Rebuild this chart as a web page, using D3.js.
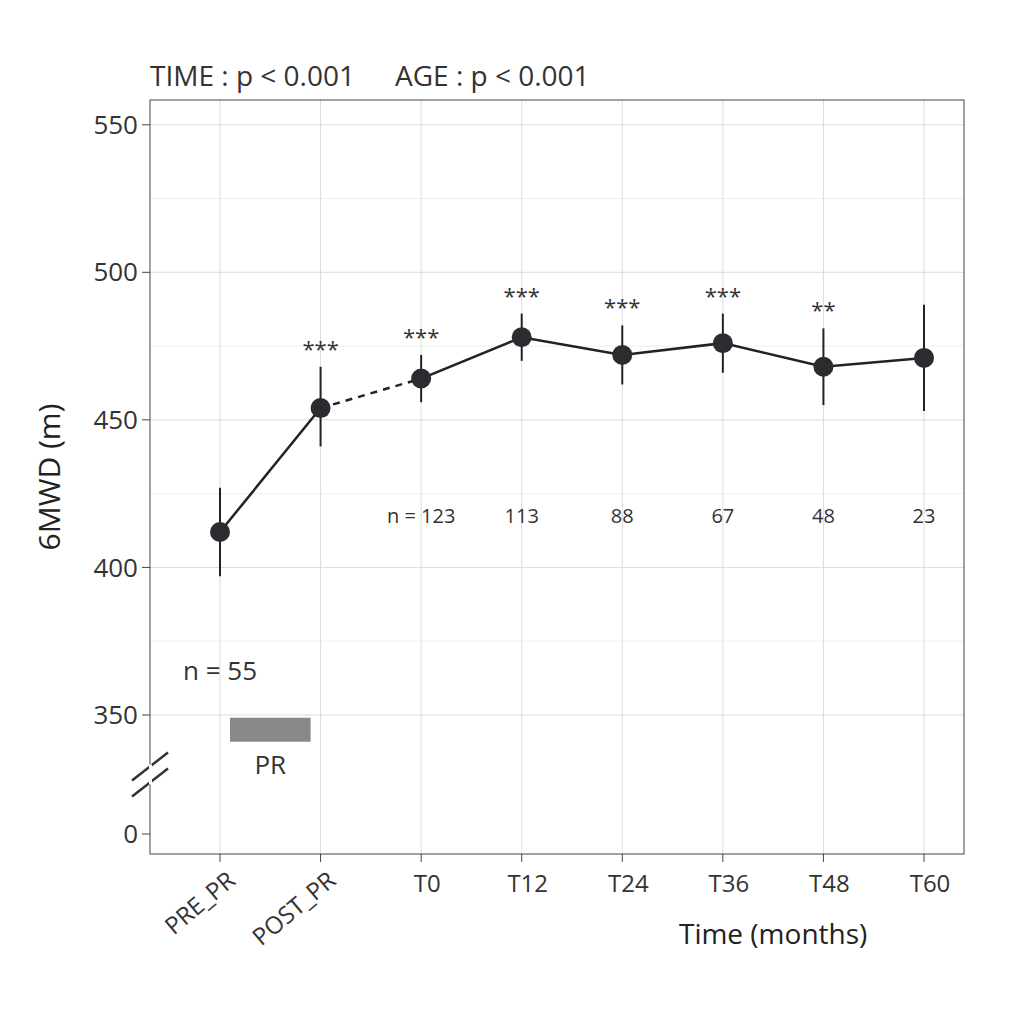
<!DOCTYPE html>
<html><head><meta charset="utf-8">
<script src="https://cdn.jsdelivr.net/npm/d3@7"></script>
<style>body{margin:0;background:#fff;font-family:"Open Sans",Arial,sans-serif}</style>
</head><body><svg id="c" width="1024" height="1024"></svg>
<script>
const categories=["PRE_PR","POST_PR","T0","T12","T24","T36","T48","T60"];
const means=[412,454,464,478,472,476,468,471];
const lows=[397,441,456,470,462,466,455,453];
const highs=[427,468,472,486,482,486,481,489];
const stars=["","***","***","***","***","***","**",""];
const nLabels=["n = 55","","n = 123","113","88","67","48","23"];
const yTicks=[0,350,400,450,500,550];

const svg=d3.select("#c");
const m={l:150,r:60,t:110,b:190};
const W=1024,H=1024;
const x=d3.scalePoint().domain(categories).range([m.l+70,W-m.r-40]).padding(0);
const y=d3.scaleLinear().domain([0,330,555]).range([H-m.b,H-m.b-60,m.t]);
const px0=m.l,px1=W-m.r,py0=m.t-10,py1=H-m.b+20;

const g=svg.append("g");
yTicks.concat([375,425,475,525]).forEach(v=>{if(v>0)g.append("line").attr("x1",px0).attr("x2",px1).attr("y1",y(v)).attr("y2",y(v)).attr("stroke",v%50?"#eeeeee":"#dcdcdc");});
categories.forEach(c=>g.append("line").attr("x1",x(c)).attr("x2",x(c)).attr("y1",py0).attr("y2",py1).attr("stroke","#dcdcdc"));
g.append("rect").attr("x",px0).attr("y",py0).attr("width",px1-px0).attr("height",py1-py0).attr("fill","none").attr("stroke","#444");
yTicks.forEach(v=>{g.append("line").attr("x1",px0-8).attr("x2",px0).attr("y1",y(v)).attr("y2",y(v)).attr("stroke","#444");
 g.append("text").attr("x",px0-12).attr("y",y(v)).attr("dy","0.35em").attr("text-anchor","end").attr("font-size",26).attr("fill","#333").text(v);});
const by=(y(0)+y(350))/2;
[-8,8].forEach(o=>g.append("line").attr("x1",px0-18).attr("x2",px0+18).attr("y1",by+o+14).attr("y2",by+o-14).attr("stroke","#333").attr("stroke-width",2.5));
g.append("rect").attr("x",px0-1).attr("y",by-10).attr("width",3).attr("height",20).attr("fill","#fff");
categories.forEach(c=>{g.append("line").attr("x1",x(c)).attr("x2",x(c)).attr("y1",py1).attr("y2",py1+8).attr("stroke","#444");
 g.append("text").attr("transform",`translate(${x(c)+6},${py1+16}) rotate(${c.includes("PR")?-40:0})`).attr("text-anchor",c.includes("PR")?"end":"middle").attr("dy",c.includes("PR")?"0.7em":"0.9em").attr("font-size",24).attr("fill","#333").text(c);});
g.append("text").attr("x",(x("T24")+x("T60"))/2).attr("y",py1+90).attr("text-anchor","middle").attr("font-size",28).attr("fill","#222").text("Time (months)");
g.append("text").attr("transform",`translate(60,${(py0+py1)/2}) rotate(-90)`).attr("text-anchor","middle").attr("font-size",30).attr("fill","#222").text("6MWD (m)");
g.append("text").attr("x",px0).attr("y",py0-14).attr("font-size",28).attr("fill","#333").text("TIME : p < 0.001");
g.append("text").attr("x",px0+245).attr("y",py0-14).attr("font-size",28).attr("fill","#333").text("AGE : p < 0.001");
g.append("rect").attr("x",x("PRE_PR")+10).attr("y",y(345)-12).attr("width",x("POST_PR")-x("PRE_PR")-20).attr("height",24).attr("fill","#888");
g.append("text").attr("x",(x("PRE_PR")+x("POST_PR"))/2).attr("y",y(345)+44).attr("text-anchor","middle").attr("font-size",26).attr("fill","#333").text("PR");
const line=d3.line().x(d=>x(d.c)).y(d=>y(d.v));
const pts=categories.map((c,i)=>({c,v:means[i]}));
g.append("path").attr("d",line(pts.slice(0,2))).attr("stroke","#222").attr("stroke-width",2.5).attr("fill","none");
g.append("path").attr("d",line(pts.slice(1,3))).attr("stroke","#222").attr("stroke-width",2.5).attr("stroke-dasharray","7,6").attr("fill","none");
g.append("path").attr("d",line(pts.slice(2))).attr("stroke","#222").attr("stroke-width",2.5).attr("fill","none");
pts.forEach((p,i)=>{g.append("line").attr("x1",x(p.c)).attr("x2",x(p.c)).attr("y1",y(lows[i])).attr("y2",y(highs[i])).attr("stroke","#222").attr("stroke-width",2);
 g.append("circle").attr("cx",x(p.c)).attr("cy",y(p.v)).attr("r",10).attr("fill","#2b2b30");
 if(stars[i])g.append("text").attr("x",x(p.c)).attr("y",y(highs[i])-10).attr("text-anchor","middle").attr("font-size",22).attr("fill","#333").text(stars[i]);
 if(nLabels[i])g.append("text").attr("x",x(p.c)).attr("y",i==0?y(362):y(415)).attr("text-anchor","middle").attr("font-size",i==0?26:20).attr("fill","#333").text(nLabels[i]);});
</script></body></html>
